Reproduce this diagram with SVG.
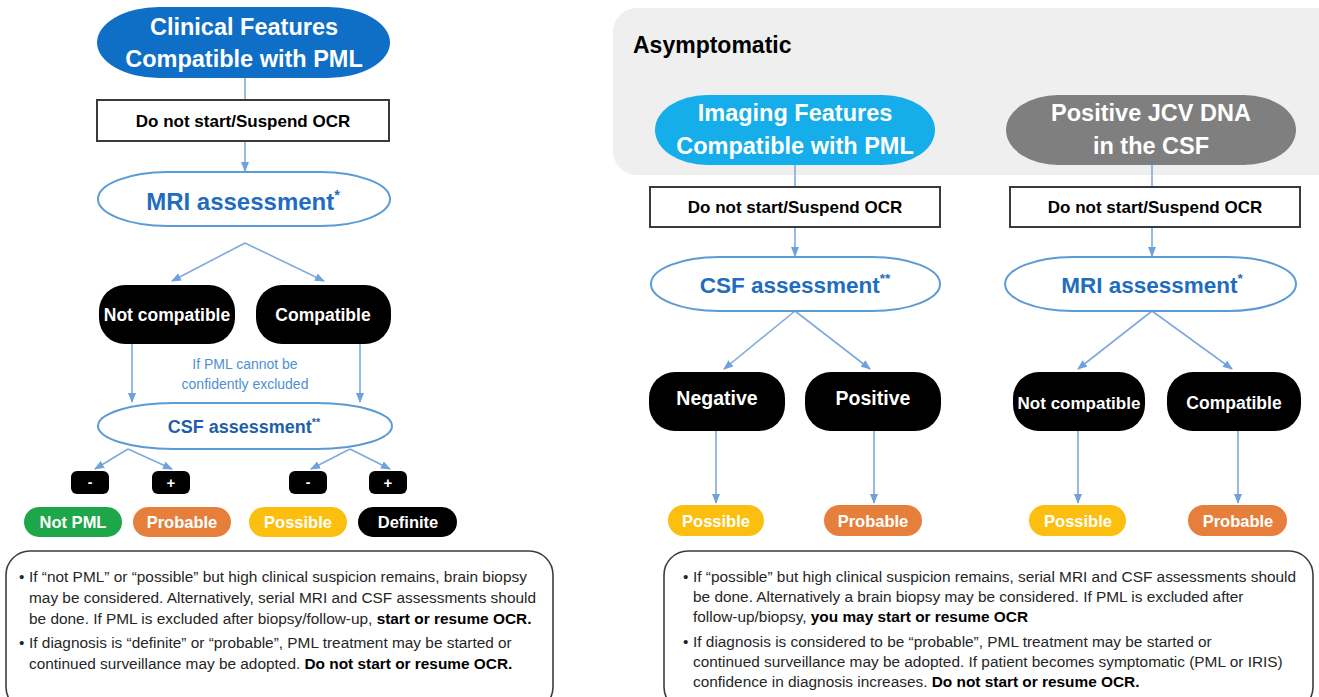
<svg xmlns="http://www.w3.org/2000/svg" width="1319" height="697" viewBox="0 0 1319 697">
<defs>
<marker id="ah" markerWidth="10" markerHeight="8" refX="9" refY="4" orient="auto" markerUnits="userSpaceOnUse">
<path d="M0,0 L10,4 L0,8 z" fill="#6fa1dc"/>
</marker>
<style>
.conn{stroke:#7eaade;stroke-width:1.6;fill:none}
.arr{marker-end:url(#ah)}
.t{font-family:"Liberation Sans",Arial,sans-serif;font-weight:bold;text-anchor:middle;dominant-baseline:central}
.w{fill:#fff}
.k{fill:#000}
.bl{fill:#1f6cc0}
.ttl{font-size:23.5px}
.ocr{font-size:17px}
.res{font-size:16.5px}
.ell{fill:#fff;stroke:#5b9bd5;stroke-width:2}
.box{fill:#fff;stroke:#3a3a3a;stroke-width:2}
.pill{fill:#000}
.body{font-family:"Liberation Sans",Arial,sans-serif;font-size:15.4px;fill:#262626}
.b{font-weight:bold;fill:#000}
.note{fill:#fff;stroke:#3c3c3c;stroke-width:1.6}
.sup{font-size:60%;baseline-shift:45%}
</style>
</defs>
<rect x="0" y="0" width="1319" height="697" fill="#fff"/>

<g id="panel-asymptomatic">
<rect x="613" y="8" width="730" height="167" rx="24" fill="#efefef"/>
<text x="633" y="45" class="t k" style="text-anchor:start;font-size:23px">Asymptomatic</text>
</g>

<g id="connectors">
<line class="conn" x1="245" y1="78" x2="245" y2="100"/>
<line class="conn arr" x1="245" y1="141" x2="245" y2="171"/>
<line class="conn arr" x1="245" y1="243" x2="172" y2="281"/>
<line class="conn arr" x1="245" y1="243" x2="324" y2="281"/>
<line class="conn arr" x1="132" y1="344" x2="132" y2="402"/>
<line class="conn arr" x1="360" y1="344" x2="360" y2="402"/>
<line class="conn arr" x1="128" y1="449" x2="95" y2="469"/>
<line class="conn arr" x1="128" y1="449" x2="172" y2="469"/>
<line class="conn arr" x1="350" y1="449" x2="311" y2="469"/>
<line class="conn arr" x1="350" y1="449" x2="390" y2="469"/>

<line class="conn" x1="795" y1="165" x2="795" y2="187"/>
<line class="conn arr" x1="795" y1="227" x2="795" y2="256"/>
<line class="conn arr" x1="795" y1="311" x2="724" y2="369"/>
<line class="conn arr" x1="795" y1="311" x2="870" y2="369"/>
<line class="conn arr" x1="716" y1="431" x2="716" y2="503"/>
<line class="conn arr" x1="874" y1="431" x2="874" y2="503"/>

<line class="conn" x1="1152" y1="165" x2="1152" y2="187"/>
<line class="conn arr" x1="1152" y1="227" x2="1152" y2="256"/>
<line class="conn arr" x1="1152" y1="311" x2="1078" y2="369"/>
<line class="conn arr" x1="1152" y1="311" x2="1232" y2="369"/>
<line class="conn arr" x1="1078" y1="431" x2="1078" y2="503"/>
<line class="conn arr" x1="1238" y1="431" x2="1238" y2="503"/>
</g>

<g id="clinical">
<rect x="97" y="7" width="293" height="71" rx="62" ry="36" fill="#0f6fc6"/>
<text x="244" y="27" class="t w ttl">Clinical Features</text>
<text x="244" y="59" class="t w ttl">Compatible with PML</text>
</g>
<g id="left-suspend">
<rect x="97" y="100" width="292" height="41" class="box"/>
<text x="243" y="121" class="t k ocr">Do not start/Suspend OCR</text>
</g>
<g id="left-mri">
<rect x="98" y="172" width="292" height="54" rx="70" ry="27" class="ell"/>
<text x="243" y="201" class="t bl" style="font-size:24px">MRI assessment<tspan class="sup">*</tspan></text>
</g>
<g id="left-notcompat">
<rect x="99" y="285" width="136" height="59" rx="26" class="pill"/>
<text x="167" y="315" class="t w" style="font-size:17.5px">Not compatible</text>
</g>
<g id="left-compat">
<rect x="256" y="285" width="135" height="59" rx="26" class="pill"/>
<text x="323" y="315" class="t w" style="font-size:17.5px">Compatible</text>
</g>
<g id="left-note-label">
<text x="245" y="364" class="t" style="font-size:14px;font-weight:normal;fill:#4f8fd3">If PML cannot be</text>
<text x="245" y="384" class="t" style="font-size:14px;font-weight:normal;fill:#4f8fd3">confidently excluded</text>
</g>
<g id="left-csf">
<rect x="98" y="403" width="294" height="46" rx="75" ry="23" class="ell"/>
<text x="244" y="427" class="t" style="font-size:18px;fill:#1f5fa8">CSF assessment<tspan class="sup">**</tspan></text>
</g>
<g id="left-minus1"><rect x="71" y="471" width="38" height="23" rx="6" class="pill"/><text x="90" y="482" class="t w" style="font-size:14px">-</text></g>
<g id="left-plus1"><rect x="152" y="471" width="38" height="23" rx="6" class="pill"/><text x="171" y="482" class="t w" style="font-size:15px">+</text></g>
<g id="left-minus2"><rect x="289" y="471" width="38" height="23" rx="6" class="pill"/><text x="308" y="482" class="t w" style="font-size:14px">-</text></g>
<g id="left-plus2"><rect x="369" y="471" width="38" height="23" rx="6" class="pill"/><text x="388" y="482" class="t w" style="font-size:15px">+</text></g>

<g id="left-notpml"><rect x="24" y="507" width="98" height="30" rx="15" fill="#1ea64b"/><text x="73" y="522" class="t w res">Not PML</text></g>
<g id="left-probable"><rect x="133" y="507" width="98" height="30" rx="15" fill="#e67f3c"/><text x="182" y="522" class="t w res">Probable</text></g>
<g id="left-possible"><rect x="249" y="507" width="98" height="30" rx="15" fill="#fdbf0f"/><text x="298" y="522" class="t w res">Possible</text></g>
<g id="left-definite"><rect x="358" y="507" width="99" height="30" rx="15" fill="#000"/><text x="408" y="522" class="t w res">Definite</text></g>

<g id="left-notes">
<rect x="6" y="551" width="547" height="160" rx="24" class="note"/>
<text x="19" y="582" class="body">•</text>
<text x="29" y="582" class="body">If “not PML” or “possible” but high clinical suspicion remains, brain biopsy</text>
<text x="29" y="603" class="body">may be considered. Alternatively, serial MRI and CSF assessments should</text>
<text x="29" y="624" class="body">be done. If PML is excluded after biopsy/follow-up, <tspan class="b">start or resume OCR.</tspan></text>
<text x="19" y="648" class="body">•</text>
<text x="29" y="648" class="body">If diagnosis is “definite” or “probable”, PML treatment may be started or</text>
<text x="29" y="669" class="body">continued surveillance may be adopted. <tspan class="b">Do not start or resume OCR.</tspan></text>
</g>

<g id="imaging">
<rect x="655" y="95" width="280" height="70" rx="52" ry="35" fill="#15aeea"/>
<text x="795" y="113" class="t w ttl">Imaging Features</text>
<text x="795" y="146" class="t w ttl">Compatible with PML</text>
</g>
<g id="img-suspend">
<rect x="650" y="187" width="290" height="40" class="box"/>
<text x="795" y="207" class="t k ocr">Do not start/Suspend OCR</text>
</g>
<g id="img-csf">
<rect x="651" y="257" width="289" height="54" rx="68" ry="27" class="ell"/>
<text x="795" y="285" class="t bl" style="font-size:22.5px">CSF assessment<tspan class="sup">**</tspan></text>
</g>
<g id="img-negative"><rect x="649" y="372" width="136" height="59" rx="26" class="pill"/><text x="717" y="398" class="t w" style="font-size:19.5px">Negative</text></g>
<g id="img-positive"><rect x="805" y="372" width="136" height="59" rx="26" class="pill"/><text x="873" y="398" class="t w" style="font-size:19.5px">Positive</text></g>
<g id="img-possible"><rect x="668" y="505" width="96" height="31" rx="15.5" fill="#fdbf0f"/><text x="716" y="521" class="t w res">Possible</text></g>
<g id="img-probable"><rect x="824" y="505" width="98" height="31" rx="15.5" fill="#e67f3c"/><text x="873" y="521" class="t w res">Probable</text></g>

<g id="jcv">
<rect x="1006" y="95" width="290" height="70" rx="52" ry="35" fill="#7f7f7f"/>
<text x="1151" y="113" class="t w ttl">Positive JCV DNA</text>
<text x="1151" y="146" class="t w ttl">in the CSF</text>
</g>
<g id="jcv-suspend">
<rect x="1010" y="187" width="290" height="40" class="box"/>
<text x="1155" y="207" class="t k ocr">Do not start/Suspend OCR</text>
</g>
<g id="jcv-mri">
<rect x="1005" y="257" width="291" height="54" rx="68" ry="27" class="ell"/>
<text x="1152" y="285" class="t bl" style="font-size:22.5px">MRI assessment<tspan class="sup">*</tspan></text>
</g>
<g id="jcv-notcompat"><rect x="1013" y="372" width="132" height="59" rx="26" class="pill"/><text x="1079" y="403" class="t w" style="font-size:17px">Not compatible</text></g>
<g id="jcv-compat"><rect x="1167" y="372" width="134" height="59" rx="26" class="pill"/><text x="1234" y="403" class="t w" style="font-size:17.5px">Compatible</text></g>
<g id="jcv-possible"><rect x="1029" y="505" width="97" height="31" rx="15.5" fill="#fdbf0f"/><text x="1078" y="521" class="t w res">Possible</text></g>
<g id="jcv-probable"><rect x="1188" y="505" width="99" height="31" rx="15.5" fill="#e67f3c"/><text x="1238" y="521" class="t w res">Probable</text></g>

<g id="right-notes">
<rect x="664" y="551" width="649" height="160" rx="24" class="note"/>
<text x="683" y="582" class="body">•</text>
<text x="693" y="582" class="body">If “possible” but high clinical suspicion remains, serial MRI and CSF assessments should</text>
<text x="693" y="602" class="body">be done. Alternatively a brain biopsy may be considered. If PML is excluded after</text>
<text x="693" y="622" class="body">follow-up/biopsy, <tspan class="b">you may start or resume OCR</tspan></text>
<text x="683" y="647" class="body">•</text>
<text x="693" y="647" class="body">If diagnosis is considered to be “probable”, PML treatment may be started or</text>
<text x="693" y="667" class="body">continued surveillance may be adopted. If patient becomes symptomatic (PML or IRIS)</text>
<text x="693" y="687" class="body">confidence in diagnosis increases. <tspan class="b">Do not start or resume OCR.</tspan></text>
</g>
</svg>
